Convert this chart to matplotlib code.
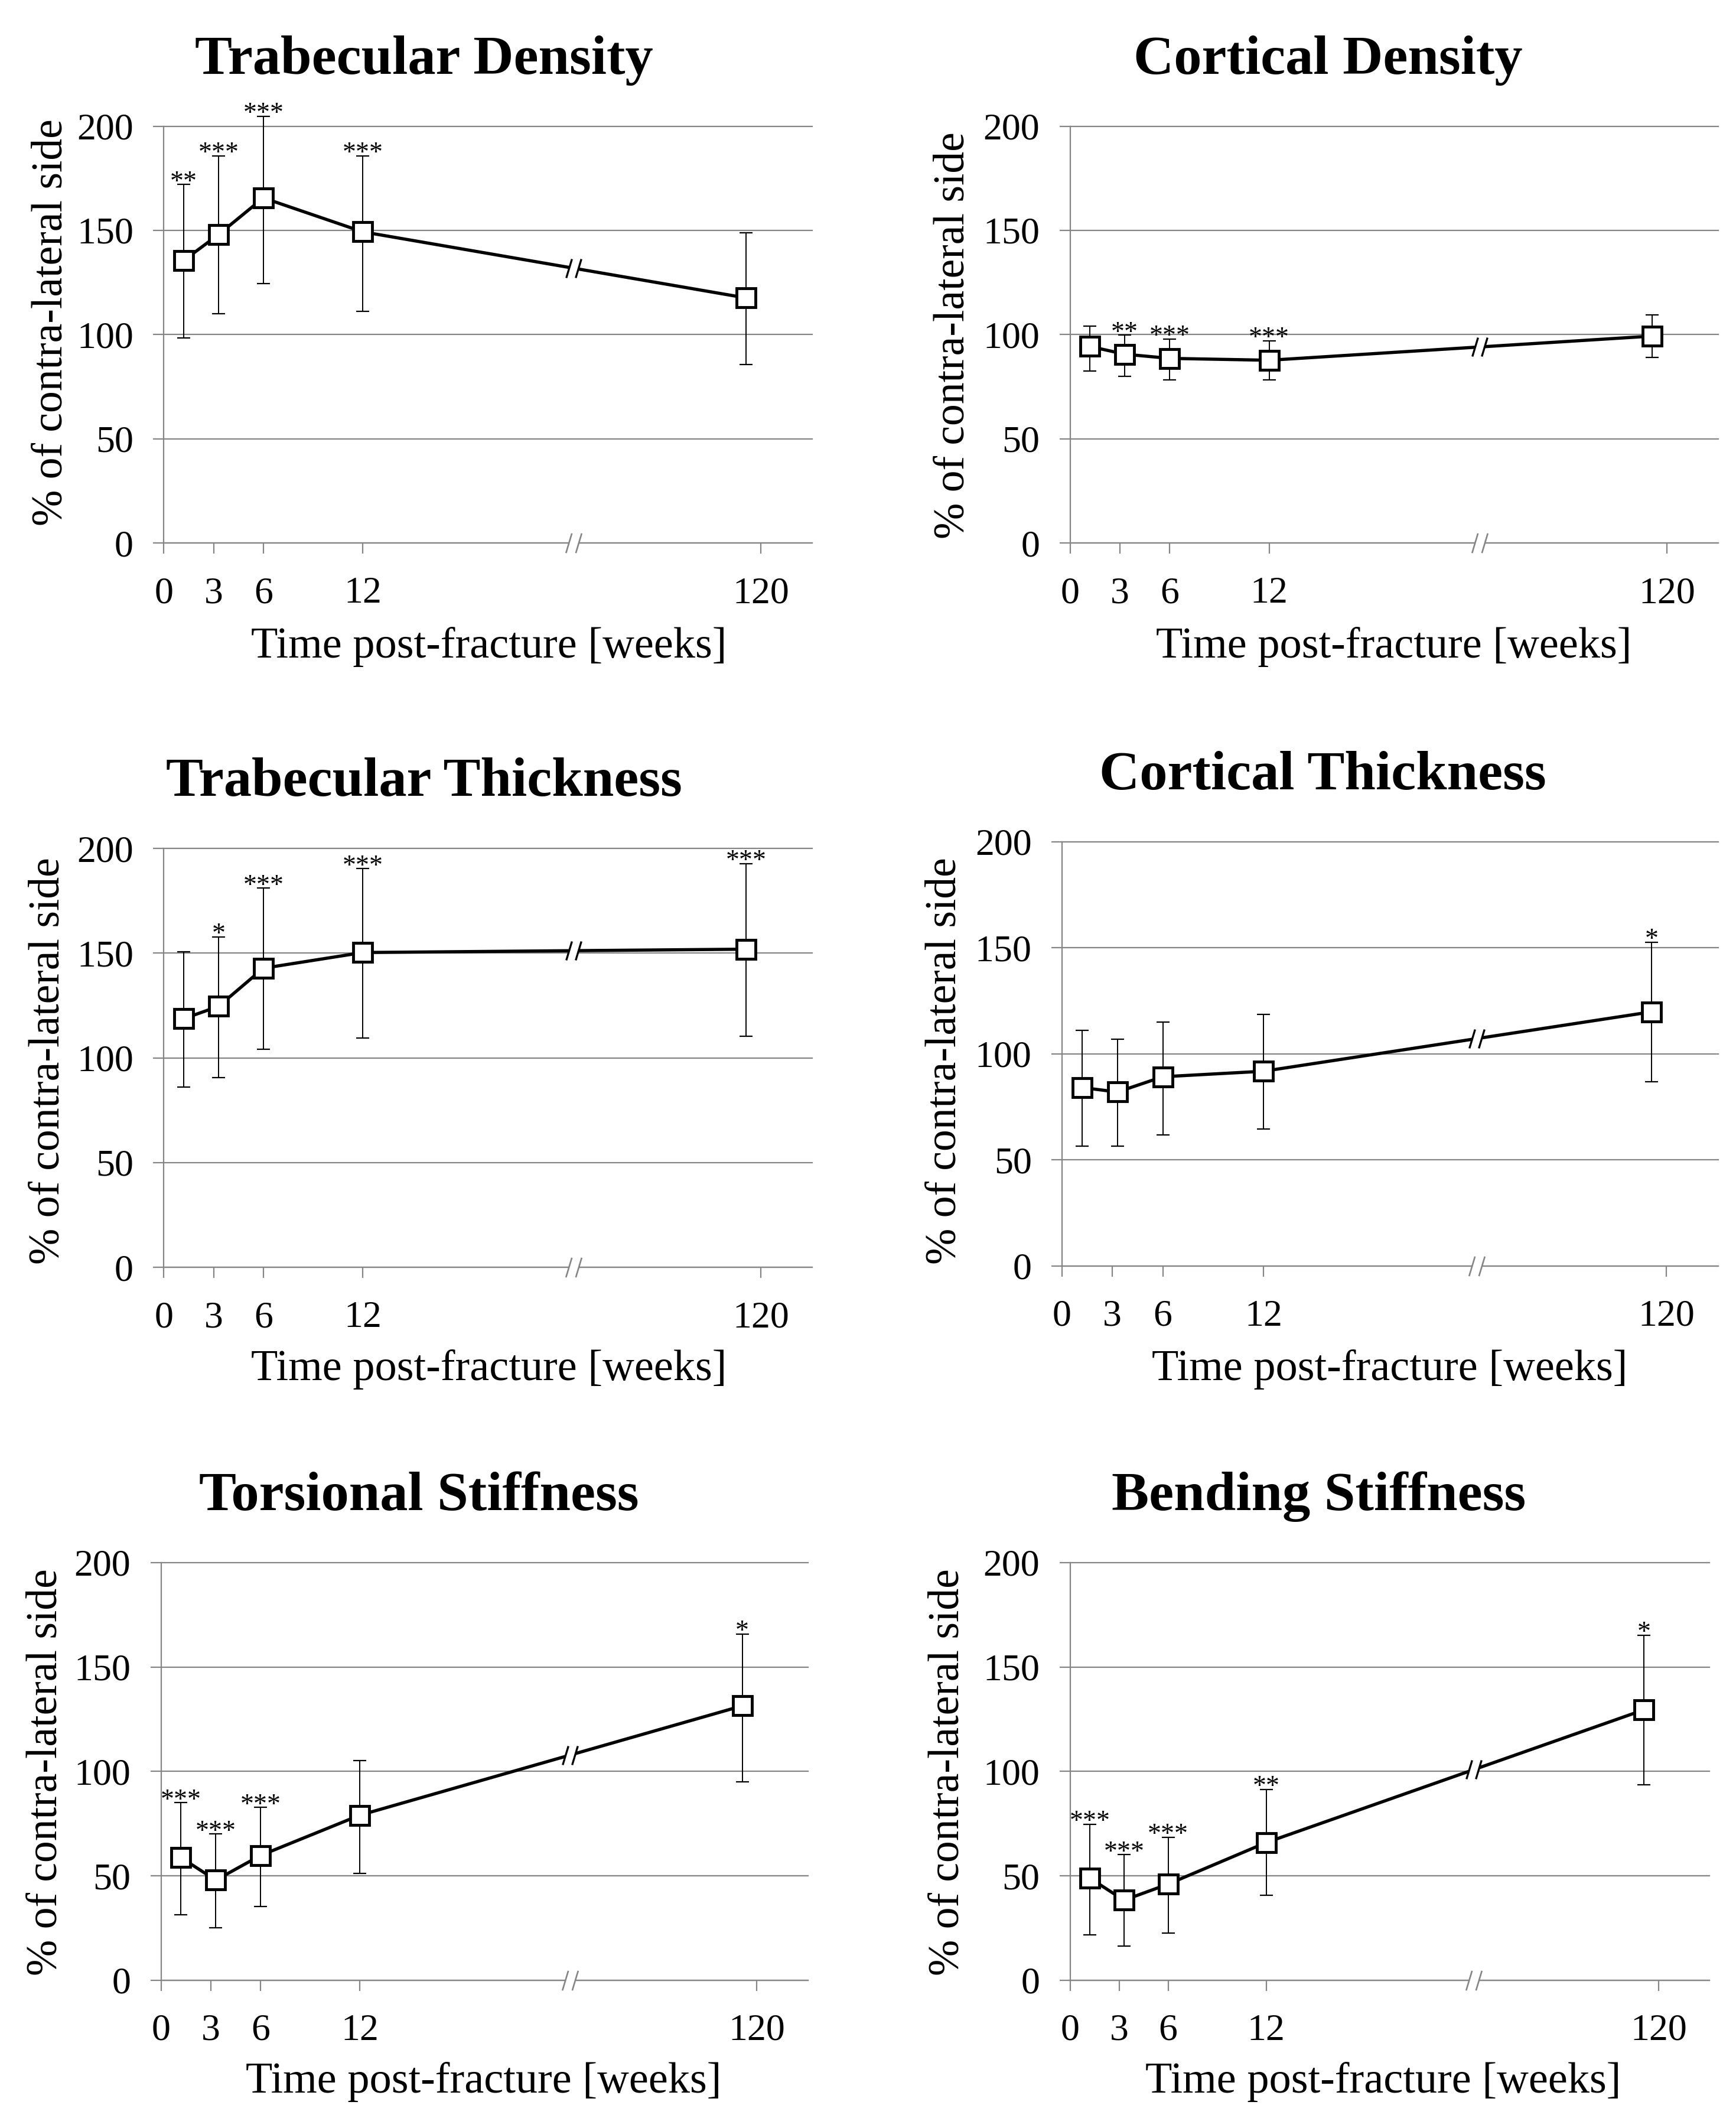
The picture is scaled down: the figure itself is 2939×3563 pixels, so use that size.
import numpy as np
import matplotlib
matplotlib.use('Agg')
import matplotlib.pyplot as plt
from matplotlib.path import Path

plt.rcParams['font.family'] = ['Liberation Serif', 'DejaVu Serif']

# ---------------- data ----------------
weeks = [1.2, 3.3, 6.0, 12.0, 116.0]
x_ticks = [0, 3, 6, 12, 120]
y_ticks = [0, 50, 100, 150, 200]

titles = ['Trabecular Density', 'Cortical Density',
          'Trabecular Thickness', 'Cortical Thickness',
          'Torsional Stiffness', 'Bending Stiffness']
y_label = '% of contra-lateral side'
x_label = 'Time post-fracture [weeks]'

trab_den_mean = [135.6, 148.0, 165.6, 149.3, 117.6]
trab_den_lo = [98.3, 110.0, 124.4, 111.2, 85.7]
trab_den_hi = [172.0, 185.7, 204.8, 185.7, 148.9]
trab_den_sig = ['**', '***', '***', '***', '']

cort_den_mean = [94.3, 90.6, 88.6, 87.7, 99.3]
cort_den_lo = [82.6, 79.9, 78.3, 78.3, 89.0]
cort_den_hi = [104.2, 99.7, 97.8, 97.0, 109.6]
cort_den_sig = ['', '**', '***', '***', '']

trab_th_mean = [118.7, 124.6, 142.8, 150.3, 151.9]
trab_th_lo = [86.1, 90.6, 104.0, 109.4, 110.2]
trab_th_hi = [150.7, 157.7, 181.0, 190.3, 192.8]
trab_th_sig = ['', '*', '***', '***', '***']

cort_th_mean = [84.1, 82.0, 89.2, 91.8, 119.8]
cort_th_lo = [56.5, 56.5, 61.8, 64.7, 86.9]
cort_th_hi = [111.2, 107.0, 114.9, 118.6, 152.7]
cort_th_sig = ['', '', '', '', '*']

tors_mean = [58.7, 47.9, 59.7, 79.0, 131.4]
tors_lo = [31.3, 25.1, 35.2, 51.0, 95.1]
tors_hi = [85.0, 70.0, 82.7, 105.1, 165.8]
tors_sig = ['***', '***', '***', '', '*']

bend_mean = [48.9, 38.3, 46.0, 65.9, 129.5]
bend_lo = [21.6, 16.4, 22.6, 40.6, 93.5]
bend_hi = [74.6, 60.1, 68.4, 91.4, 165.2]
bend_sig = ['***', '***', '***', '**', '*']

series = [
    (trab_den_mean, trab_den_lo, trab_den_hi, trab_den_sig),
    (cort_den_mean, cort_den_lo, cort_den_hi, cort_den_sig),
    (trab_th_mean, trab_th_lo, trab_th_hi, trab_th_sig),
    (cort_th_mean, cort_th_lo, cort_th_hi, cort_th_sig),
    (tors_mean, tors_lo, tors_hi, tors_sig),
    (bend_mean, bend_lo, bend_hi, bend_sig),
]

# ---------------- broken x scale ----------------
SEG_END = 12.0
FAR_TICK = 120.0
FAR_POS = 36.0


def fwd(x):
    x = np.asarray(x, dtype=float)
    return np.where(x <= SEG_END, x,
                    SEG_END + (x - SEG_END) * (FAR_POS - SEG_END) / (FAR_TICK - SEG_END))


def inv(p):
    p = np.asarray(p, dtype=float)
    return np.where(p <= SEG_END, p,
                    SEG_END + (p - SEG_END) * (FAR_TICK - SEG_END) / (FAR_POS - SEG_END))


X_MAX = float(inv(39.1))
BREAK_AT = float(inv(24.7))

GRAY = '#858585'

gap_path = Path([(-0.4, -0.5), (0.1, -0.5), (0.4, 0.5), (-0.1, 0.5), (-0.4, -0.5)],
                [Path.MOVETO, Path.LINETO, Path.LINETO, Path.LINETO, Path.CLOSEPOLY])
slash_path = Path([(-0.4, -0.5), (-0.1, 0.5), (0.1, -0.5), (0.4, 0.5)],
                  [Path.MOVETO, Path.LINETO, Path.MOVETO, Path.LINETO])

# ---------------- layout (reference pixel coords, 1293x1568 preview) ----------------
W, H = 1293.0, 1568.0
layout = [
    dict(box=(122, 605, 94, 404.5), tx=316, yl=(38, 240), xl=(364, 482)),
    dict(box=(797, 1280, 94, 404.5), tx=989, yl=(710, 250), xl=(1038, 482)),
    dict(box=(122, 605, 632, 944), tx=316, yl=(36, 790), xl=(364, 1020)),
    dict(box=(791, 1280, 627, 943), tx=985, yl=(704, 790), xl=(1035, 1020)),
    dict(box=(120, 602, 1164, 1475), tx=312, yl=(34, 1320), xl=(360, 1551)),
    dict(box=(797, 1273, 1164, 1475), tx=982, yl=(706, 1320), xl=(1030, 1551)),
]

fig = plt.figure(figsize=(29.39, 35.63), dpi=100)

for title, (mean, lo, hi, sig), lay in zip(titles, series, layout):
    l, r, t, b = lay['box']
    ax = fig.add_axes([l / W, 1 - b / H, (r - l) / W, (b - t) / H])
    ax.set_xscale('function', functions=(fwd, inv))
    ax.set_xlim(0, X_MAX)
    ax.set_ylim(0, 200)
    ax.set_xticks(x_ticks)
    ax.set_xticklabels([str(v) for v in x_ticks])
    ax.set_yticks(y_ticks)
    ax.set_yticklabels([str(v) for v in y_ticks])

    for s in ['top', 'right']:
        ax.spines[s].set_visible(False)
    for s in ['left', 'bottom']:
        ax.spines[s].set_color(GRAY)
        ax.spines[s].set_linewidth(1.6)
    ax.tick_params(axis='both', direction='out', length=13, width=1.6,
                   color=GRAY, labelsize=46, labelcolor='black')
    ax.tick_params(axis='x', pad=28)
    ax.tick_params(axis='y', pad=24)
    ax.yaxis.grid(True, color=GRAY, linewidth=1.6)
    ax.set_axisbelow(True)
    for gl in ax.get_ygridlines():
        gl.set_clip_on(False)

    mean_a = np.asarray(mean)
    yerr = [mean_a - np.asarray(lo), np.asarray(hi) - mean_a]
    eb = ax.errorbar(weeks, mean, yerr=yerr, fmt='none', ecolor='black',
                     elinewidth=1.4, capsize=8, capthick=1.6, zorder=3)
    for art in eb.get_children():
        art.set_clip_on(False)

    ax.plot(weeks, mean, '-', color='black', lw=3.9, marker='s', ms=23,
            mfc='white', mec='black', mew=3.5, zorder=4, clip_on=False)

    # break on data line
    yb = float(np.interp(BREAK_AT, weeks, mean))
    ax.plot([BREAK_AT], [yb], linestyle='none', marker=gap_path, ms=23,
            mfc='white', mec='none', zorder=5, clip_on=False)
    ax.plot([BREAK_AT], [yb], linestyle='none', marker=slash_path, ms=23,
            mfc='none', mec='black', mew=2.4, zorder=6, clip_on=False)
    # break on x axis
    ax.plot([BREAK_AT], [0], linestyle='none', marker=gap_path, ms=24,
            mfc='white', mec='none', zorder=5, clip_on=False)
    ax.plot([BREAK_AT], [0], linestyle='none', marker=slash_path, ms=24,
            mfc='none', mec=GRAY, mew=1.9, zorder=6, clip_on=False)

    for w, h, s in zip(weeks, hi, sig):
        if s:
            ax.annotate(s, xy=(w, h), xytext=(0, -6), textcoords='offset points',
                        ha='center', va='baseline', fontsize=33,
                        annotation_clip=False, zorder=7)

    ax.set_ylabel(y_label, fontsize=53)
    ax.yaxis.set_label_coords(lay['yl'][0] / W, 1 - lay['yl'][1] / H,
                              transform=fig.transFigure)
    ax.yaxis.label.set_va('center')
    ax.yaxis.label.set_ha('center')
    ax.set_xlabel(x_label, fontsize=53.5)
    ax.xaxis.set_label_coords(lay['xl'][0] / W, 1 - lay['xl'][1] / H,
                              transform=fig.transFigure)
    ax.xaxis.label.set_va('center')

    fig.text(lay['tx'] / W, 1 - (t - 39) / H, title, ha='center', va='baseline',
             fontsize=68, fontweight='bold')

fig.savefig('out.png', dpi=100, facecolor='white')
